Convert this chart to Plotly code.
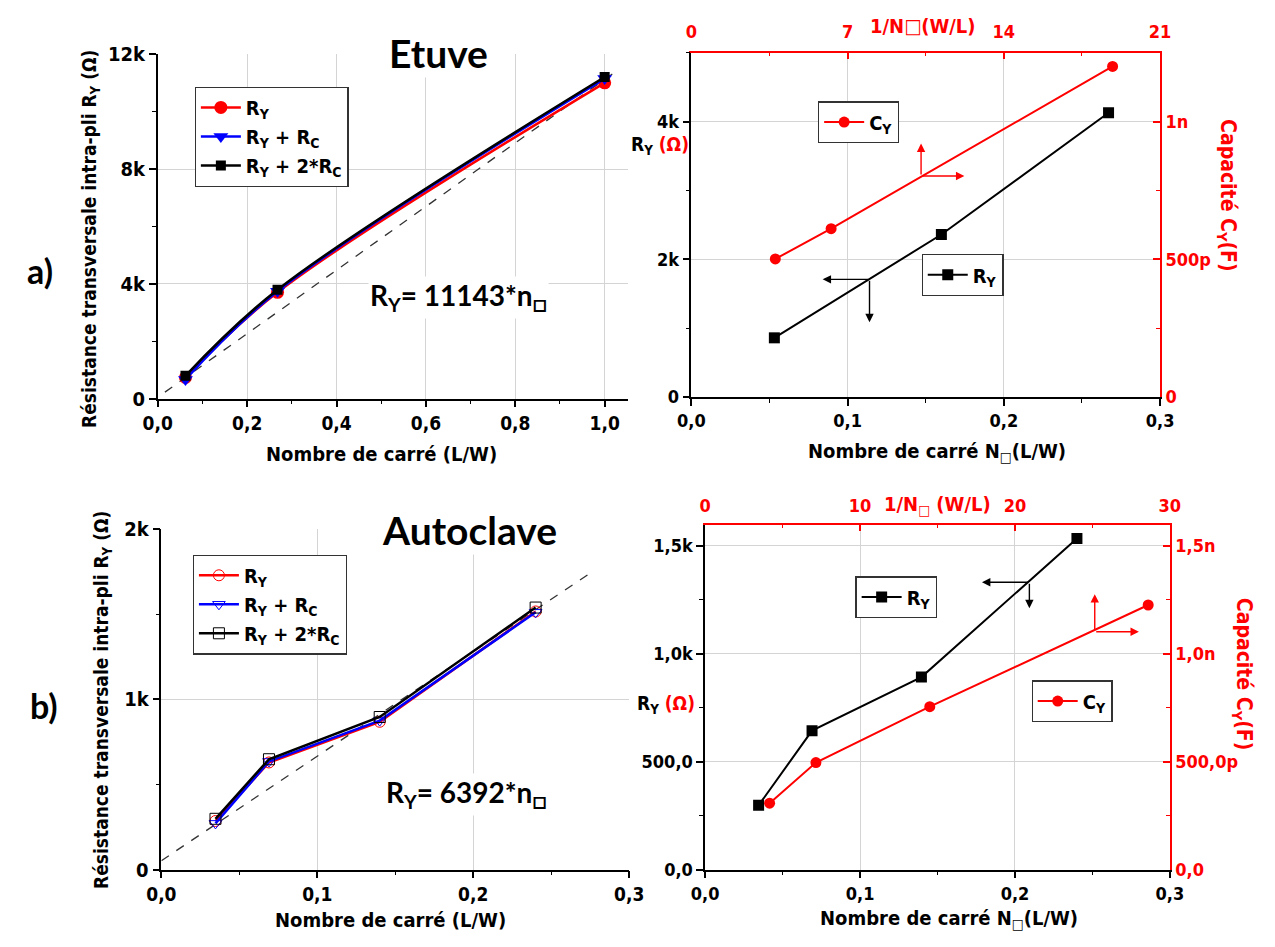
import plotly.graph_objects as go

# ---------------- data ----------------
# (a) Etuve - left
etuve_n = [0.062, 0.268, 1.0]
etuve_ry = [737, 3704, 11002]
etuve_ry_rc = [670, 3740, 11150]
etuve_ry_2rc = [794, 3793, 11205]
etuve_fit_x = [0.016, 1.028]
etuve_fit_y = [227, 11433]

# (a) Etuve - right
etuve_N = [0.0531, 0.160, 0.267]
etuve_RY = [859, 2359, 4128]
etuve_invN = [3.76, 6.26, 18.87]
etuve_CY = [5.01e-10, 6.11e-10, 1.200e-9]

# (b) Autoclave - left
auto_n = [0.0347, 0.069, 0.140, 0.240]
auto_ry = [286, 630, 869, 1517]
auto_ry_rc = [272, 636, 876, 1512]
auto_ry_2rc = [299, 649, 897, 1540]
auto_fit_x = [0.0, 0.2748]
auto_fit_y = [53, 1741]

# (b) Autoclave - right
auto_N = [0.0345, 0.069, 0.1396, 0.240]
auto_RY = [298, 644, 892, 1534]
auto_invN = [4.16, 7.15, 14.5, 28.6]
auto_CY = [3.08e-10, 4.96e-10, 7.55e-10, 1.226e-9]

# tick labels
a_l_xticks = [0.0, 0.2, 0.4, 0.6, 0.8, 1.0]
a_l_xlabels = ["0,0", "0,2", "0,4", "0,6", "0,8", "1,0"]
a_l_yticks = [0, 4000, 8000, 12000]
a_l_ylabels = ["0", "4k", "8k", "12k"]
r_xticks = [0.0, 0.1, 0.2, 0.3]
r_xlabels = ["0,0", "0,1", "0,2", "0,3"]
a_r_yticks = [0, 2000, 4000]
a_r_ylabels = ["0", "2k", "4k"]
a_r_y2ticks = [0, 5e-10, 1e-9]
a_r_y2labels = ["0", "500p", "1n"]
a_r_topticks = [0, 7, 14, 21]
a_r_toplabels = ["0", "7", "14", "21"]
b_l_yticks = [0, 1000, 2000]
b_l_ylabels = ["0", "1k", "2k"]
b_r_yticks = [0, 500, 1000, 1500]
b_r_ylabels = ["0,0", "500,0", "1,0k", "1,5k"]
b_r_y2ticks = [0, 5e-10, 1e-9, 1.5e-9]
b_r_y2labels = ["0,0", "500,0p", "1,0n", "1,5n"]
b_r_topticks = [0, 10, 20, 30]
b_r_toplabels = ["0", "10", "20", "30"]

NARROW = "DejaVu Sans Condensed, Liberation Sans Narrow, Arial Narrow, Liberation Sans, sans-serif"
CAL = "Lato, Carlito, Open Sans, sans-serif"
RED = "#ff0000"
BLUE = "#0000ff"
BLACK = "#000000"
GRID = "#d4d4d4"
BOX = "<span style='font-size:24px'>□</span>"

W, H = 1275, 947


def px(x):
    return x / W


def py(y):
    return 1 - y / H


def axis(domain, rng, tickvals, ticktext, minor_dtick, anchor, side=None, color=BLACK,
         ticks="outside", grid=False, overlaying=None, labels=True, size=18, standoff=None):
    d = dict(
        range=rng, tickmode="array", tickvals=tickvals, ticktext=ticktext,
        showline=True, linecolor=color, linewidth=1.5, ticks=ticks, ticklen=7, tickwidth=1.5,
        tickcolor=color, showgrid=grid, gridcolor=GRID, gridwidth=1, zeroline=False,
        tickfont=dict(family=NARROW, size=size, color=color, weight="bold"),
        minor=dict(ticks=ticks, dtick=minor_dtick, tick0=0, ticklen=4, tickwidth=1.2,
                   tickcolor=color, showgrid=False),
        anchor=anchor, showticklabels=labels, fixedrange=True,
    )
    if domain is not None:
        d["domain"] = domain
    if side:
        d["side"] = side
    if overlaying:
        d["overlaying"] = overlaying
    if standoff is not None:
        d["ticklabelstandoff"] = standoff
    return d


fig = go.Figure()

# ---- (a) left ----
fig.add_trace(go.Scatter(x=etuve_fit_x, y=etuve_fit_y, mode="lines", xaxis="x", yaxis="y",
                         line=dict(color="#333333", width=1.3, dash="dash"), showlegend=False))
fig.add_trace(go.Scatter(x=etuve_n, y=etuve_ry, mode="lines+markers", name="R<sub>Y</sub>",
                         xaxis="x", yaxis="y", legend="legend",
                         line=dict(color=RED, width=2.5, shape="spline"),
                         marker=dict(symbol="circle", size=13, color=RED)))
fig.add_trace(go.Scatter(x=etuve_n, y=etuve_ry_rc, mode="lines+markers", name="R<sub>Y</sub> + R<sub>C</sub>",
                         xaxis="x", yaxis="y", legend="legend",
                         line=dict(color=BLUE, width=2.5, shape="spline"),
                         marker=dict(symbol="triangle-down", size=13, color=BLUE)))
fig.add_trace(go.Scatter(x=etuve_n, y=etuve_ry_2rc, mode="lines+markers", name="R<sub>Y</sub> + 2*R<sub>C</sub>",
                         xaxis="x", yaxis="y", legend="legend",
                         line=dict(color=BLACK, width=2.5, shape="spline"),
                         marker=dict(symbol="square", size=10, color=BLACK)))

# ---- (a) right ----
fig.add_trace(go.Scatter(x=etuve_N, y=etuve_RY, mode="lines+markers", name="R<sub>Y</sub>",
                         xaxis="x2", yaxis="y2", legend="legend3",
                         line=dict(color=BLACK, width=2),
                         marker=dict(symbol="square", size=11, color=BLACK)))
fig.add_trace(go.Scatter(x=etuve_invN, y=etuve_CY, mode="lines+markers", name="C<sub>Y</sub>",
                         xaxis="x3", yaxis="y3", legend="legend2",
                         line=dict(color=RED, width=2),
                         marker=dict(symbol="circle", size=11, color=RED)))

# ---- (b) left ----
fig.add_trace(go.Scatter(x=auto_fit_x, y=auto_fit_y, mode="lines", xaxis="x4", yaxis="y4",
                         line=dict(color="#333333", width=1.3, dash="dash"), showlegend=False))
fig.add_trace(go.Scatter(x=auto_n, y=auto_ry, mode="lines+markers", name="R<sub>Y</sub>",
                         xaxis="x4", yaxis="y4", legend="legend4",
                         line=dict(color=RED, width=2.5),
                         marker=dict(symbol="circle-open", size=11, color=RED, line=dict(width=1))))
fig.add_trace(go.Scatter(x=auto_n, y=auto_ry_rc, mode="lines+markers", name="R<sub>Y</sub> + R<sub>C</sub>",
                         xaxis="x4", yaxis="y4", legend="legend4",
                         line=dict(color=BLUE, width=2.5),
                         marker=dict(symbol="triangle-down-open", size=11, color=BLUE, line=dict(width=1))))
fig.add_trace(go.Scatter(x=auto_n, y=auto_ry_2rc, mode="lines+markers", name="R<sub>Y</sub> + 2*R<sub>C</sub>",
                         xaxis="x4", yaxis="y4", legend="legend4",
                         line=dict(color=BLACK, width=2.5),
                         marker=dict(symbol="square-open", size=11, color=BLACK, line=dict(width=1))))

# ---- (b) right ----
fig.add_trace(go.Scatter(x=auto_N, y=auto_RY, mode="lines+markers", name="R<sub>Y</sub>",
                         xaxis="x5", yaxis="y5", legend="legend5",
                         line=dict(color=BLACK, width=2),
                         marker=dict(symbol="square", size=11, color=BLACK)))
fig.add_trace(go.Scatter(x=auto_invN, y=auto_CY, mode="lines+markers", name="C<sub>Y</sub>",
                         xaxis="x6", yaxis="y6", legend="legend6",
                         line=dict(color=RED, width=2),
                         marker=dict(symbol="circle", size=11, color=RED)))

# domains
aL_x = [px(146.2), px(628)]
aL_y = [py(396.7), py(43.3)]
aR_x = [px(692.7), px(1172.7)]
aR_y = [py(395), py(41.7)]
bL_x = [px(149.9), px(629)]
bL_y = [py(880), py(530.7)]
bR_x = [px(706.8), px(1182.7)]
bR_y = [py(880), py(526)]

layout_axes = dict(
    xaxis=axis(aL_x, [0, 1.0527], a_l_xticks, a_l_xlabels, 0.1, "y", grid=True, size=19),
    yaxis=axis(aL_y, [0, 12000], a_l_yticks, a_l_ylabels, 2000, "x", grid=True, size=20),
    xaxis7=axis(None, [0, 1.0527], a_l_xticks, a_l_xlabels, 0.1, "y", side="top",
                ticks="inside", overlaying="x", labels=False),
    yaxis7=axis(None, [0, 12000], a_l_yticks, a_l_ylabels, 2000, "x", side="right",
                ticks="inside", overlaying="y", labels=False),

    xaxis2=axis(aR_x, [0, 0.3], r_xticks, r_xlabels, 0.05, "y2", grid=True),
    yaxis2=axis(aR_y, [0, 5000], a_r_yticks, a_r_ylabels, 1000, "x2", grid=True),
    xaxis3=axis(None, [0, 21], a_r_topticks, a_r_toplabels, 3.5, "y2", side="top", color=RED,
                ticks="inside", overlaying="x2", standoff=6),
    yaxis3=axis(None, [0, 1.25e-9], a_r_y2ticks, a_r_y2labels, 2.5e-10, "x2", side="right", color=RED,
                ticks="inside", overlaying="y2"),

    xaxis4=axis(bL_x, [0, 0.3], r_xticks, r_xlabels, 0.05, "y4", grid=True, size=19),
    yaxis4=axis(bL_y, [0, 2000], b_l_yticks, b_l_ylabels, 500, "x4", grid=True, size=20),
    xaxis8=axis(None, [0, 0.3], r_xticks, r_xlabels, 0.05, "y4", side="top",
                ticks="inside", overlaying="x4", labels=False),
    yaxis8=axis(None, [0, 2000], b_l_yticks, b_l_ylabels, 500, "x4", side="right",
                ticks="inside", overlaying="y4", labels=False),

    xaxis5=axis(bR_x, [0, 0.3], r_xticks, r_xlabels, 0.05, "y5", grid=True),
    yaxis5=axis(bR_y, [0, 1598], b_r_yticks, b_r_ylabels, 250, "x5", grid=True),
    xaxis6=axis(None, [0, 30], b_r_topticks, b_r_toplabels, 5, "y5", side="top", color=RED,
                ticks="inside", overlaying="x5", standoff=4),
    yaxis6=axis(None, [0, 1.598e-9], b_r_y2ticks, b_r_y2labels, 2.5e-10, "x5", side="right", color=RED,
                ticks="inside", overlaying="y5"),
)


def legend(x, ytop):
    return dict(x=px(x), y=py(ytop), xanchor="left", yanchor="top", bgcolor="white",
                bordercolor="#333333", borderwidth=1.2,
                font=dict(family=NARROW, size=20, color=BLACK, weight="bold"),
                itemwidth=40, tracegroupgap=0)


def ann(text, x, y, size=20, color=BLACK, family=NARROW, angle=0, bg=None, xanchor="center"):
    d = dict(text=text, x=px(x), y=py(y), xref="paper", yref="paper", showarrow=False,
             xanchor=xanchor, yanchor="middle", textangle=angle,
             font=dict(family=family, size=size, color=color, weight="bold"))
    if bg:
        d["bgcolor"] = bg
    return d


def arrow(xr, yr, x0, y0, x1, y1, color):
    return dict(x=x1, y=y1, ax=x0, ay=y0, xref=xr, yref=yr, axref=xr, ayref=yr,
                text="", showarrow=True, arrowhead=2, arrowsize=1.2, arrowwidth=1.4,
                arrowcolor=color)


annotations = [
    ann("<b>a)</b>", 25.5, 265, size=34, family=CAL),
    ann("<b>b)</b>", 30, 712, size=34, family=CAL),
    ann("<b>Etuve</b>", 433.7, 42, size=39, family=CAL, bg="white"),
    ann("<b>Autoclave</b>", 465, 531.7, size=39, family=CAL, bg="white"),
    ann("<b>R<sub>Y</sub>= 11143*n<sub>" + BOX + "</sub></b>", 362, 293, size=28, family=CAL, bg="white",
        xanchor="left"),
    ann("<b>R<sub>Y</sub>= 6392*n<sub>" + BOX + "</sub></b>", 378, 803, size=28, family=CAL, bg="white",
        xanchor="left"),
    ann("<b>Résistance transversale intra-pli R<sub>Y</sub> (Ω)</b>", 76.7, 233, size=19, angle=-90),
    ann("<b>Résistance transversale intra-pli R<sub>Y</sub> (Ω)</b>", 89, 706, size=19, angle=-90),
    ann("<b>Nombre de carré (L/W)</b>", 375.6, 453, size=20),
    ann("<b>Nombre de carré (L/W)</b>", 384.6, 932, size=20),
    ann("<b>Nombre de carré N<sub>□</sub>(L/W)</b>", 944.6, 451, size=20),
    ann("<b>Nombre de carré N<sub>□</sub>(L/W)</b>", 957, 931, size=20),
    ann("<b>1/N□(W/L)</b>", 929.5, 14, size=20, color=RED),
    ann("<b>1/N<sub>□</sub> (W/L)</b>", 945, 506, size=20, color=RED),
    ann("<b>Capacité C<sub>Y</sub>(F)</b>", 1241.4, 188, size=21, color=RED, angle=90),
    ann("<b>Capacité C<sub>Y</sub>(F)</b>", 1257.6, 679, size=21, color=RED, angle=90),
    ann("<b>R<sub>Y</sub> <span style='color:#ff0000'>(Ω)</span></b>", 661, 137, size=19),
    ann("<b>R<sub>Y</sub> <span style='color:#ff0000'>(Ω)</span></b>", 667, 711, size=19),
    arrow("x2", "y2", 0.147, 3209, 0.147, 3680, RED),
    arrow("x2", "y2", 0.147, 3209, 0.1747, 3209, RED),
    arrow("x2", "y2", 0.114, 1708, 0.084, 1708, BLACK),
    arrow("x2", "y2", 0.114, 1708, 0.114, 1086, BLACK),
    arrow("x5", "y5", 0.2093, 1331, 0.1787, 1331, BLACK),
    arrow("x5", "y5", 0.2093, 1331, 0.2093, 1211, BLACK),
    arrow("x5", "y5", 0.2515, 1102, 0.2515, 1276, RED),
    arrow("x5", "y5", 0.2515, 1102, 0.280, 1102, RED),
]

fig.update_layout(
    width=W, height=H, autosize=False,
    margin=dict(l=0, r=0, t=0, b=0),
    paper_bgcolor="white", plot_bgcolor="white",
    showlegend=True,
    legend=legend(184, 76.7),
    legend2=legend(822.3, 91.7),
    legend3=legend(928.4, 248.3),
    legend4=legend(182, 556.7),
    legend5=legend(860.7, 579),
    legend6=legend(1041, 685.7),
    annotations=annotations,
    **layout_axes,
)

fig.write_html("out.html", config={"displayModeBar": False},
               post_script="document.body.style.margin='0';document.body.style.padding='0';")
